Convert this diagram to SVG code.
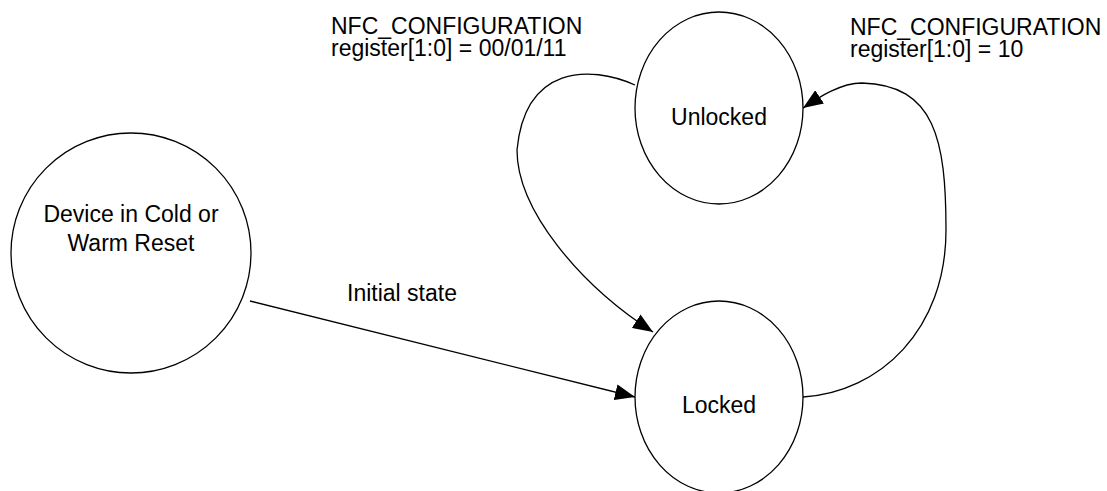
<svg xmlns="http://www.w3.org/2000/svg" width="1107" height="491" viewBox="0 0 1107 491">
  <style>
    .state { fill: #ffffff; stroke: #000000; stroke-width: 1.3; }
    .conn { fill: none; stroke: #000000; stroke-width: 1.3; marker-end: url(#arrow); }
    text { font-family: "Liberation Sans", Arial, Helvetica, sans-serif; font-size: 23px; fill: #000000; }
    .c { text-anchor: middle; }
  </style>
  <defs>
    <marker id="arrow" markerUnits="userSpaceOnUse" markerWidth="20" markerHeight="16" refX="20" refY="8" orient="auto">
      <path d="M0,0 L20,8 L0,16 Z" fill="#000000"/>
    </marker>
  </defs>
  <rect width="1107" height="491" fill="#ffffff"/>

  <g id="connectors">
    <path id="reset-to-locked" class="conn" d="M250,301 L635,397"/>
    <path id="unlocked-to-locked" class="conn" d="M635,85 C590,65 525,65 517,150 C517,210 580,285 653,332"/>
    <path id="locked-to-unlocked" class="conn" d="M803,397 C880,392 946,330 946,230 C946,140 935,85 862,83 C840,83 818,98 803,108"/>
  </g>

  <g id="node-reset">
    <ellipse class="state" cx="131" cy="253" rx="120" ry="120"/>
    <text class="c" x="131" y="222">Device in Cold or</text>
    <text class="c" x="131" y="251">Warm Reset</text>
  </g>

  <g id="node-unlocked">
    <ellipse class="state" cx="719" cy="108" rx="84" ry="96"/>
    <text class="c" x="719" y="125">Unlocked</text>
  </g>

  <g id="node-locked">
    <ellipse class="state" cx="719" cy="397" rx="84" ry="96"/>
    <text class="c" x="719" y="413">Locked</text>
  </g>

  <g id="labels">
    <text x="347" y="301">Initial state</text>
    <text x="331" y="34">NFC_CONFIGURATION</text>
    <text x="331" y="56">register[1:0] = 00/01/11</text>
    <text x="850" y="35">NFC_CONFIGURATION</text>
    <text x="850" y="57">register[1:0] = 10</text>
  </g>
</svg>
